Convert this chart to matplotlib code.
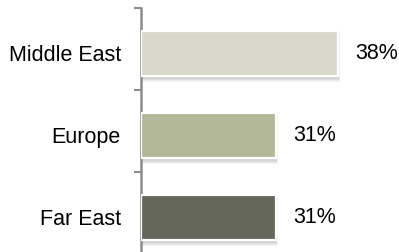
import matplotlib.pyplot as plt

# data
regions = ["Middle East", "Europe", "Far East"]
bar_len = [38, 26, 26]          # bar lengths as drawn
pct_labels = ["38%", "31%", "31%"]
colors = ["#D8D9CC", "#B3B898", "#65675B"]

plt.rcParams["font.family"] = ["Liberation Sans", "DejaVu Sans"]

fig = plt.figure(figsize=(3.99, 2.52), dpi=100)
ax = fig.add_axes([141 / 399, -2 / 252, 259 / 399, 246 / 252])

y = list(range(len(regions)))

# soft drop shadow
for k in range(6):
    off = 0.6 + k * 0.5
    ax.barh([v + off * 0.014 for v in y], [b + off * 0.13 for b in bar_len],
            height=0.55 + k * 0.014, color="#000000", alpha=0.045, zorder=1,
            linewidth=0)

ax.barh(y, bar_len, height=0.55, color=colors, edgecolor="white",
        linewidth=1.6, zorder=3)

for yi, b, lab in zip(y, bar_len, pct_labels):
    ax.text(b + 3.4, yi, lab, va="center", ha="left", fontsize=15.5, color="black")

ax.set_yticks(y)
ax.set_yticklabels(regions, fontsize=15.5)
ax.set_yticks([-0.55, 0.45, 1.45, 2.45], minor=True)
ax.tick_params(axis="y", which="major", length=0, pad=14.5)
ax.tick_params(axis="y", which="minor", length=5, width=1.5, color="#8C8C8C")
ax.set_ylim(-0.55, 2.45)
ax.invert_yaxis()
ax.set_xlim(0, 50)
ax.set_xticks([])

for s in ["top", "right", "bottom"]:
    ax.spines[s].set_visible(False)
ax.spines["left"].set_color("#8C8C8C")
ax.spines["left"].set_linewidth(1.8)

fig.savefig("out.png", dpi=100)
